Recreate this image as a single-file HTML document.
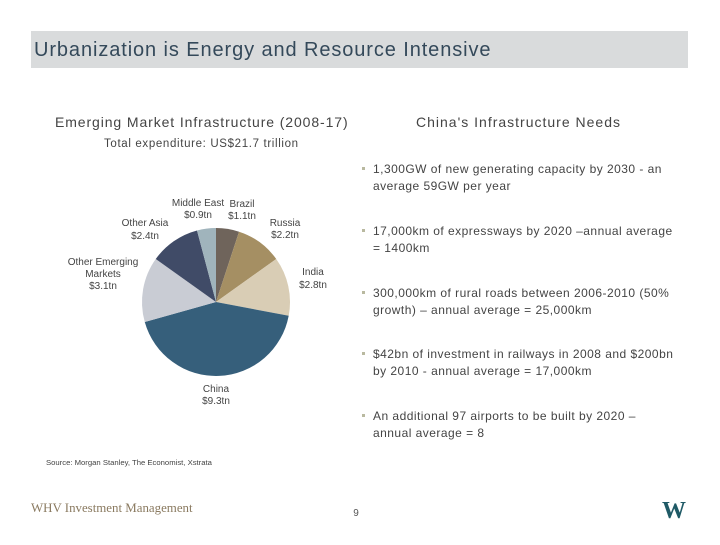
<!DOCTYPE html>
<html><head><meta charset="utf-8"><style>
body{margin:0;background:#fff;}
svg text{font-family:"Liberation Sans",sans-serif;}
</style></head><body>
<svg width="720" height="540" viewBox="0 0 720 540" xmlns="http://www.w3.org/2000/svg">
<rect x="31" y="31" width="657" height="37" fill="#d9dbdc"/>
<text x="34" y="56" font-size="20" letter-spacing="0.9" fill="#34495a">Urbanization is Energy and Resource Intensive</text>
<text x="55" y="127" font-size="14" letter-spacing="0.9" fill="#444">Emerging Market Infrastructure (2008-17)</text>
<text x="104" y="147" font-size="11.5" letter-spacing="0.65" fill="#444">Total expenditure: US$21.7 trillion</text>
<text x="416" y="127" font-size="14" letter-spacing="1" fill="#444">China's Infrastructure Needs</text>
<g id="pie"></g>
<g font-size="10" fill="#444" text-anchor="middle">
<text x="198" y="206">Middle East</text><text x="198" y="218">$0.9tn</text>
<text x="242" y="207">Brazil</text><text x="242" y="219">$1.1tn</text>
<text x="285" y="226">Russia</text><text x="285" y="238">$2.2tn</text>
<text x="313" y="275">India</text><text x="313" y="288">$2.8tn</text>
<text x="145" y="226">Other Asia</text><text x="145" y="239">$2.4tn</text>
<text x="103" y="265">Other Emerging</text><text x="103" y="277">Markets</text><text x="103" y="289">$3.1tn</text>
<text x="216" y="392">China</text><text x="216" y="404">$9.3tn</text>
</g>
<g font-size="12" letter-spacing="0.47" fill="#444">
<g><rect x="362" y="167" width="3" height="3" fill="#b9b9a0"/><text x="373" y="173">1,300GW of new generating capacity by 2030 - an</text><text x="373" y="190">average 59GW per year</text></g>
<g><rect x="362" y="229" width="3" height="3" fill="#b9b9a0"/><text x="373" y="235">17,000km of expressways by 2020 –annual average</text><text x="373" y="252">= 1400km</text></g>
<g><rect x="362" y="291" width="3" height="3" fill="#b9b9a0"/><text x="373" y="297">300,000km of rural roads between 2006-2010 (50%</text><text x="373" y="314">growth) – annual average = 25,000km</text></g>
<g><rect x="362" y="352" width="3" height="3" fill="#b9b9a0"/><text x="373" y="358">$42bn of investment in railways in 2008 and $200bn</text><text x="373" y="375">by 2010 - annual average = 17,000km</text></g>
<g><rect x="362" y="414" width="3" height="3" fill="#b9b9a0"/><text x="373" y="420">An additional 97 airports to be built by 2020 –</text><text x="373" y="437">annual average = 8</text></g>
</g>
<text x="46" y="465" font-size="7.7" fill="#444">Source: Morgan Stanley, The Economist, Xstrata</text>
<text x="31" y="512" font-size="12.9" fill="#8a7a60" style="font-family:'Liberation Serif',serif">WHV Investment Management</text>
<text x="356" y="516" font-size="10" fill="#555" text-anchor="middle">9</text>
<text x="674" y="518" font-size="24" font-weight="bold" fill="#1f5a66" text-anchor="middle" style="font-family:'Liberation Serif',serif">W</text>
</svg>
<script>
const categories=["Brazil","Russia","India","China","Other Emerging Markets","Other Asia","Middle East"];
const values=[1.1,2.2,2.8,9.3,3.1,2.4,0.9];
const colors=["#6f645b","#a58f63","#d9cdb5","#365f7b","#c9ccd4","#404b67","#a0b4bc"];
const cx=216,cy=302,r=74;
const g=document.getElementById('pie');
const total=values.reduce((a,b)=>a+b,0);
let a0=0;
values.forEach((v,i)=>{
  const a1=a0+v/total*2*Math.PI;
  const x0=cx+r*Math.sin(a0),y0=cy-r*Math.cos(a0),x1=cx+r*Math.sin(a1),y1=cy-r*Math.cos(a1);
  const p=document.createElementNS('http://www.w3.org/2000/svg','path');
  p.setAttribute('d',`M${cx},${cy}L${x0},${y0}A${r},${r} 0 ${a1-a0>Math.PI?1:0} 1 ${x1},${y1}Z`);
  p.setAttribute('fill',colors[i]);
  
  
  g.appendChild(p);
  a0=a1;
});
</script>
</body></html>
